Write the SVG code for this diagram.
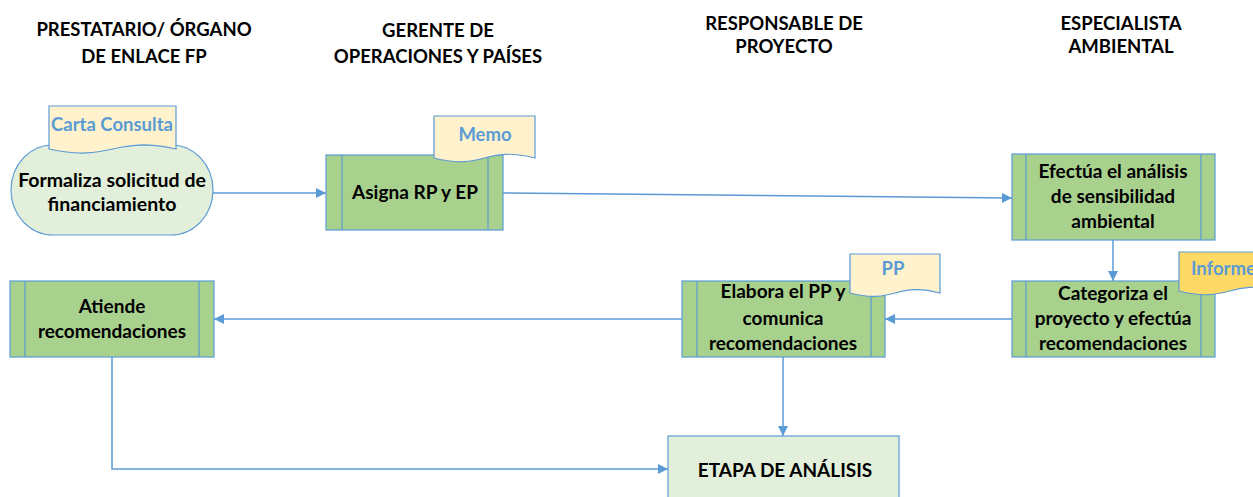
<svg xmlns="http://www.w3.org/2000/svg" width="1253" height="497" viewBox="0 0 1253 497">
<defs>
<marker id="arr" viewBox="0 0 10 10" refX="10" refY="5" markerWidth="10" markerHeight="10" markerUnits="userSpaceOnUse" orient="auto">
<path d="M0,0 L10,5 L0,10 Z" fill="#5B9BD5"/>
</marker>
<style>
.hdr{font-family:Lato,"Liberation Sans",sans-serif;font-weight:bold;font-size:18.5px;fill:#000;text-anchor:middle}
.lbl{font-family:Lato,"Liberation Sans",sans-serif;font-weight:bold;font-size:19px;fill:#000;text-anchor:middle}
.doc{font-family:Lato,"Liberation Sans",sans-serif;font-weight:bold;font-size:18.5px;fill:#5B9BD5;text-anchor:middle}
.box{fill:#A9D18E;stroke:#5B9BD5;stroke-width:1.2}
.bar{fill:none;stroke:#5B9BD5;stroke-width:1.2}
.docs{fill:#FFF2CC;stroke:#5B9BD5;stroke-width:1.2}
.con{fill:none;stroke:#5B9BD5;stroke-width:1.5;marker-end:url(#arr)}
</style>
</defs>
<rect width="1253" height="497" fill="#fff"/>
<g id="headers">
<text class="hdr" x="144" y="36">PRESTATARIO/ ÓRGANO</text>
<text class="hdr" x="144" y="63">DE ENLACE FP</text>
<text class="hdr" x="438" y="37">GERENTE DE</text>
<text class="hdr" x="438" y="63">OPERACIONES Y PAÍSES</text>
<text class="hdr" x="784" y="30">RESPONSABLE DE</text>
<text class="hdr" x="784" y="53">PROYECTO</text>
<text class="hdr" x="1121" y="30">ESPECIALISTA</text>
<text class="hdr" x="1121" y="53">AMBIENTAL</text>
</g>
<g id="connectors">
<line class="con" x1="213" y1="193" x2="326" y2="193"/>
<line class="con" x1="503" y1="193" x2="1012" y2="198"/>
<line class="con" x1="1113" y1="240" x2="1113" y2="281"/>
<line class="con" x1="1012" y1="319" x2="885" y2="319"/>
<line class="con" x1="682" y1="319" x2="214" y2="319"/>
<line class="con" x1="783" y1="357" x2="783" y2="436"/>
<polyline class="con" points="112,357 112,469 668,469"/>
</g>
<g id="formaliza">
<rect x="11" y="145" width="202" height="90" rx="42" ry="45" fill="#E2EFDA" stroke="#5B9BD5" stroke-width="1.2"/>
<text class="lbl" x="112" y="187" style="font-size:19.5px">Formaliza solicitud de</text>
<text class="lbl" x="112" y="211" style="font-size:19.5px">financiamiento</text>
</g>
<g id="doc-carta">
<path class="docs" d="M49,106 H176 V149 C112,135 113,163 49,149 Z"/>
<text class="doc" x="112" y="131">Carta Consulta</text>
</g>
<g id="asigna">
<rect class="box" x="326" y="155" width="177" height="75"/>
<path class="bar" d="M342,155 V230 M488,155 V230"/>
<text class="lbl" x="415" y="199">Asigna RP y EP</text>
</g>
<g id="doc-memo">
<path class="docs" d="M434,116 H535 V158 C484,145 485,171 434,158 Z"/>
<text class="doc" x="485" y="141">Memo</text>
</g>
<g id="efectua">
<rect class="box" x="1012" y="154" width="203" height="86"/>
<path class="bar" d="M1026,154 V240 M1201,154 V240"/>
<text class="lbl" x="1113" y="178">Efectúa el análisis</text>
<text class="lbl" x="1113" y="203">de sensibilidad</text>
<text class="lbl" x="1113" y="228">ambiental</text>
</g>
<g id="categoriza">
<rect class="box" x="1012" y="281" width="203" height="76"/>
<path class="bar" d="M1026,281 V357 M1201,281 V357"/>
<text class="lbl" x="1113" y="300">Categoriza el</text>
<text class="lbl" x="1113" y="325">proyecto y efectúa</text>
<text class="lbl" x="1113" y="350">recomendaciones</text>
</g>
<g id="doc-informe">
<path d="M1179,252 H1280 V291 C1229,278 1230,304 1179,291 Z" fill="#FFD966" stroke="#5B9BD5" stroke-width="1.2"/>
<text class="doc" x="1191" y="275" style="text-anchor:start">Informe</text>
</g>
<g id="elabora">
<rect class="box" x="682" y="281" width="203" height="76"/>
<path class="bar" d="M697,281 V357 M871,281 V357"/>
<text class="lbl" x="783" y="298">Elabora el PP y</text>
<text class="lbl" x="783" y="325">comunica</text>
<text class="lbl" x="783" y="350">recomendaciones</text>
</g>
<g id="doc-pp">
<path class="docs" d="M850,254 H940 V293 C895,281 895,305 850,293 Z"/>
<text class="doc" x="893" y="275">PP</text>
</g>
<g id="atiende">
<rect class="box" x="10" y="281" width="204" height="76"/>
<path class="bar" d="M25,281 V357 M199,281 V357"/>
<text class="lbl" x="112" y="313">Atiende</text>
<text class="lbl" x="112" y="338">recomendaciones</text>
</g>
<g id="etapa">
<rect x="668" y="436" width="231" height="70" fill="#E2EFDA" stroke="#5B9BD5" stroke-width="1.2"/>
<text class="lbl" x="785" y="477">ETAPA DE ANÁLISIS</text>
</g>
</svg>
